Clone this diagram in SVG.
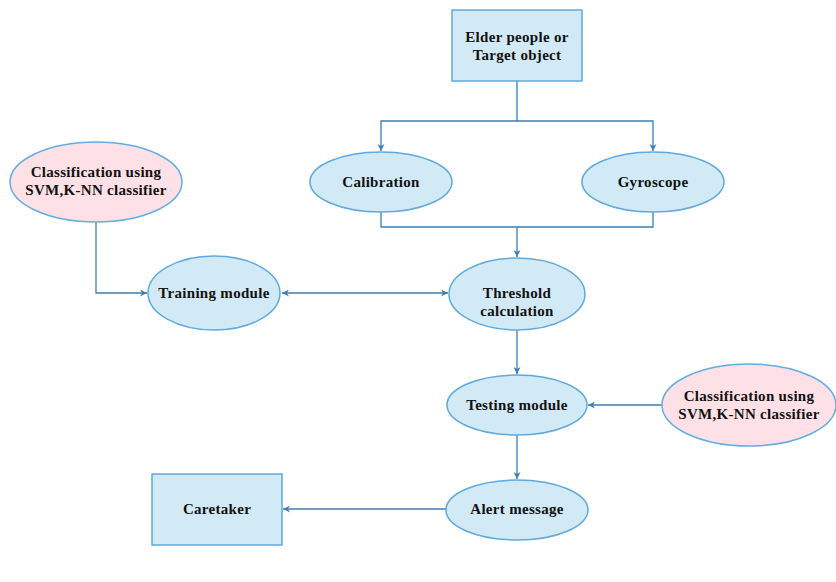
<svg xmlns="http://www.w3.org/2000/svg" width="836" height="582" viewBox="0 0 836 582">
<style>
.blue{fill:#d2eaf6;stroke:#5ea9de;stroke-width:1.5}
.pink{fill:#fde1e6;stroke:#62aee0;stroke-width:1.5}
.t{font-family:"Liberation Serif","Times New Roman",serif;font-weight:bold;font-size:15px;letter-spacing:0.3px;fill:#111;text-anchor:middle}
.c{fill:none;stroke:#3c7fb2;stroke-width:1.3}
</style>
<defs>
<marker id="a" viewBox="0 0 10 10" refX="10" refY="5" markerWidth="7" markerHeight="7" orient="auto-start-reverse" markerUnits="userSpaceOnUse">
<path d="M0,0 L10,5 L0,10 L3,5 z" fill="#3c7fb2"/>
</marker>
</defs>
<rect width="836" height="582" fill="#fff"/>
<g id="connectors">
<path class="c" d="M517,81 V121 H381 V151" marker-end="url(#a)"/>
<path class="c" d="M517,121 H653 V151" marker-end="url(#a)"/>
<path class="c" d="M381,212 V227 H653 V212"/>
<path class="c" d="M517,227 V257" marker-end="url(#a)"/>
<path class="c" d="M96,222 V293 H147" marker-end="url(#a)"/>
<path class="c" d="M282,293 H448" marker-start="url(#a)" marker-end="url(#a)"/>
<path class="c" d="M517,330 V374" marker-end="url(#a)"/>
<path class="c" d="M662,405 H588" marker-end="url(#a)"/>
<path class="c" d="M517,435 V479" marker-end="url(#a)"/>
<path class="c" d="M446,509 H283" marker-end="url(#a)"/>
</g>
<g id="elder">
<rect class="blue" x="452" y="10" width="130" height="71"/>
<text class="t" x="517" y="42">Elder people or</text>
<text class="t" x="517" y="60">Target object</text>
</g>
<g id="calibration">
<ellipse class="blue" cx="381" cy="182" rx="71" ry="30"/>
<text class="t" x="381" y="187">Calibration</text>
</g>
<g id="gyroscope">
<ellipse class="blue" cx="653" cy="182" rx="71" ry="30"/>
<text class="t" x="653" y="187">Gyroscope</text>
</g>
<g id="classify-left">
<ellipse class="pink" cx="96" cy="182" rx="86" ry="40"/>
<text class="t" x="96" y="177">Classification using</text>
<text class="t" x="96" y="195">SVM,K-NN classifier</text>
</g>
<g id="training">
<ellipse class="blue" cx="214" cy="293" rx="66" ry="37"/>
<text class="t" x="214" y="298">Training module</text>
</g>
<g id="threshold">
<ellipse class="blue" cx="517" cy="294" rx="68" ry="36"/>
<text class="t" x="517" y="298">Threshold</text>
<text class="t" x="517" y="316">calculation</text>
</g>
<g id="testing">
<ellipse class="blue" cx="517" cy="405" rx="70" ry="30"/>
<text class="t" x="517" y="410">Testing module</text>
</g>
<g id="classify-right">
<ellipse class="pink" cx="749" cy="405" rx="87" ry="41"/>
<text class="t" x="749" y="401">Classification using</text>
<text class="t" x="749" y="419">SVM,K-NN classifier</text>
</g>
<g id="alert">
<ellipse class="blue" cx="517" cy="510" rx="71" ry="30"/>
<text class="t" x="517" y="514">Alert message</text>
</g>
<g id="caretaker">
<rect class="blue" x="152" y="474" width="130" height="71"/>
<text class="t" x="217" y="514">Caretaker</text>
</g>
</svg>
